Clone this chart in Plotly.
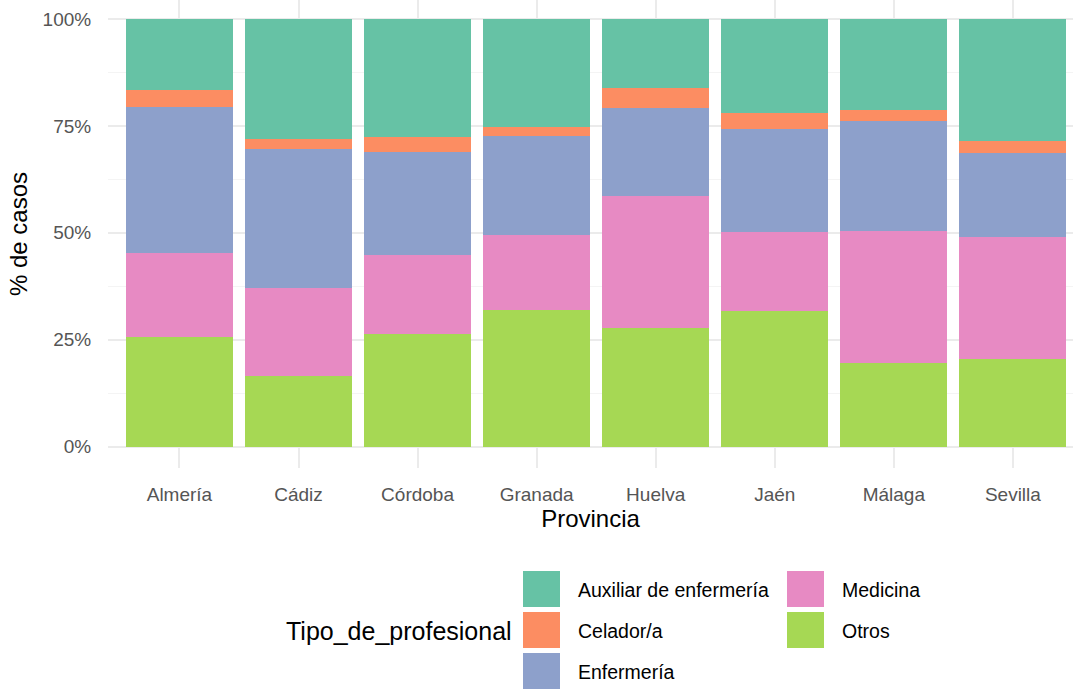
"""Casos por provincia y tipo de profesional (barras apiladas al 100%)."""

import plotly.graph_objects as go

PROVINCIAS = ["Almería", "Cádiz", "Córdoba", "Granada", "Huelva", "Jaén", "Málaga", "Sevilla"]

# porcentaje de casos de cada tipo de profesional, por provincia
AUXILIAR = [16.6, 28.1, 27.5, 25.2, 16.2, 22.1, 21.2, 28.5]
CELADOR = [3.9, 2.4, 3.5, 2.1, 4.7, 3.6, 2.6, 2.9]
ENFERMERIA = [34.3, 32.5, 24.2, 23.2, 20.5, 24.2, 25.8, 19.5]
MEDICINA = [19.5, 20.5, 18.5, 17.5, 30.9, 18.5, 30.9, 28.6]
OTROS = [25.7, 16.5, 26.3, 32.0, 27.7, 31.6, 19.5, 20.5]

TIPOS = ["Auxiliar de enfermería", "Celador/a", "Enfermería", "Medicina", "Otros"]
SERIES = [AUXILIAR, CELADOR, ENFERMERIA, MEDICINA, OTROS]
COLORES = ["#66C2A5", "#FC8D62", "#8DA0CB", "#E78AC3", "#A6D854"]

Y_TICKS = [0, 0.25, 0.5, 0.75, 1.0]
Y_TICK_LABELS = ["0%", "25%", "50%", "75%", "100%"]

FONT = "Liberation Sans, Arial, sans-serif"
W, H = 1073, 689
ML, MB = 108, 221
PLOT_W, PLOT_H = W - ML, H - MB


def _px(x: float, y: float) -> tuple[float, float]:
    """Pixel position (from top-left) -> paper coordinates."""
    return (x - ML) / PLOT_W, (PLOT_H - y) / PLOT_H


fig = go.Figure()

# ggplot apila el primer nivel arriba: se añaden de abajo hacia arriba
for tipo, valores, color in reversed(list(zip(TIPOS, SERIES, COLORES))):
    fig.add_trace(
        go.Bar(
            x=PROVINCIAS,
            y=valores,
            name=tipo,
            marker=dict(color=color, line=dict(width=0)),
            hovertemplate="%{x}<br>" + tipo + ": %{y:.1f}%<extra></extra>",
        )
    )

# leyenda dibujada a mano (claves grandes, dos columnas como en ggplot)
shapes = []
annotations = []
for i, (tipo, color) in enumerate(zip(TIPOS, COLORES)):
    col, row = i // 3, i % 3
    kx = 523 + col * 264
    ky = 571 + row * 41
    x0, y0 = _px(kx, ky + 36)
    x1, y1 = _px(kx + 37, ky)
    shapes.append(
        dict(type="rect", xref="paper", yref="paper", x0=x0, y0=y0, x1=x1, y1=y1,
             fillcolor=color, line=dict(width=0))
    )
    tx, ty = _px(kx + 53, ky + 19)
    annotations.append(
        dict(text=tipo, xref="paper", yref="paper", x=tx, y=ty, xanchor="left",
             yanchor="middle", showarrow=False, font=dict(size=19.5, color="#000000"))
    )

lx, ly = _px(514, 631)
annotations.append(
    dict(text="Tipo_de_profesional", xref="paper", yref="paper", x=lx, y=ly,
         xanchor="right", yanchor="middle", showarrow=False,
         font=dict(size=25, color="#000000"))
)

fig.update_layout(
    width=W,
    height=H,
    barmode="stack",
    barnorm="fraction",
    bargap=0.1,
    showlegend=False,
    paper_bgcolor="white",
    plot_bgcolor="white",
    margin=dict(l=ML, r=0, t=0, b=MB, pad=0),
    font=dict(family=FONT, size=19, color="#4D4D4D"),
    shapes=shapes,
    annotations=annotations,
    xaxis=dict(
        range=[-0.6, 7.505],
        showgrid=True,
        gridcolor="#EBEBEB",
        gridwidth=1.5,
        zeroline=False,
        showline=False,
        ticks="outside",
        ticklen=9,
        tickcolor="rgba(0,0,0,0)",
        tickfont=dict(size=19, color="#555555"),
        title=dict(text="Provincia", font=dict(size=24, color="#000000"), standoff=6),
    ),
    yaxis=dict(
        range=[-0.05, 1.0444],
        tickvals=Y_TICKS,
        ticktext=Y_TICK_LABELS,
        showgrid=True,
        gridcolor="#EBEBEB",
        gridwidth=1.5,
        minor=dict(dtick=0.125, showgrid=True, gridcolor="#F4F4F4", gridwidth=1),
        zeroline=False,
        showline=False,
        ticks="outside",
        ticklen=12,
        tickcolor="rgba(0,0,0,0)",
        tickfont=dict(size=19, color="#555555"),
        title=dict(text="% de casos", font=dict(size=24, color="#000000"), standoff=8),
    ),
)

fig.write_html(
    "out.html",
    config={"displayModeBar": False},
    post_script="document.body.style.margin='0';",
)
